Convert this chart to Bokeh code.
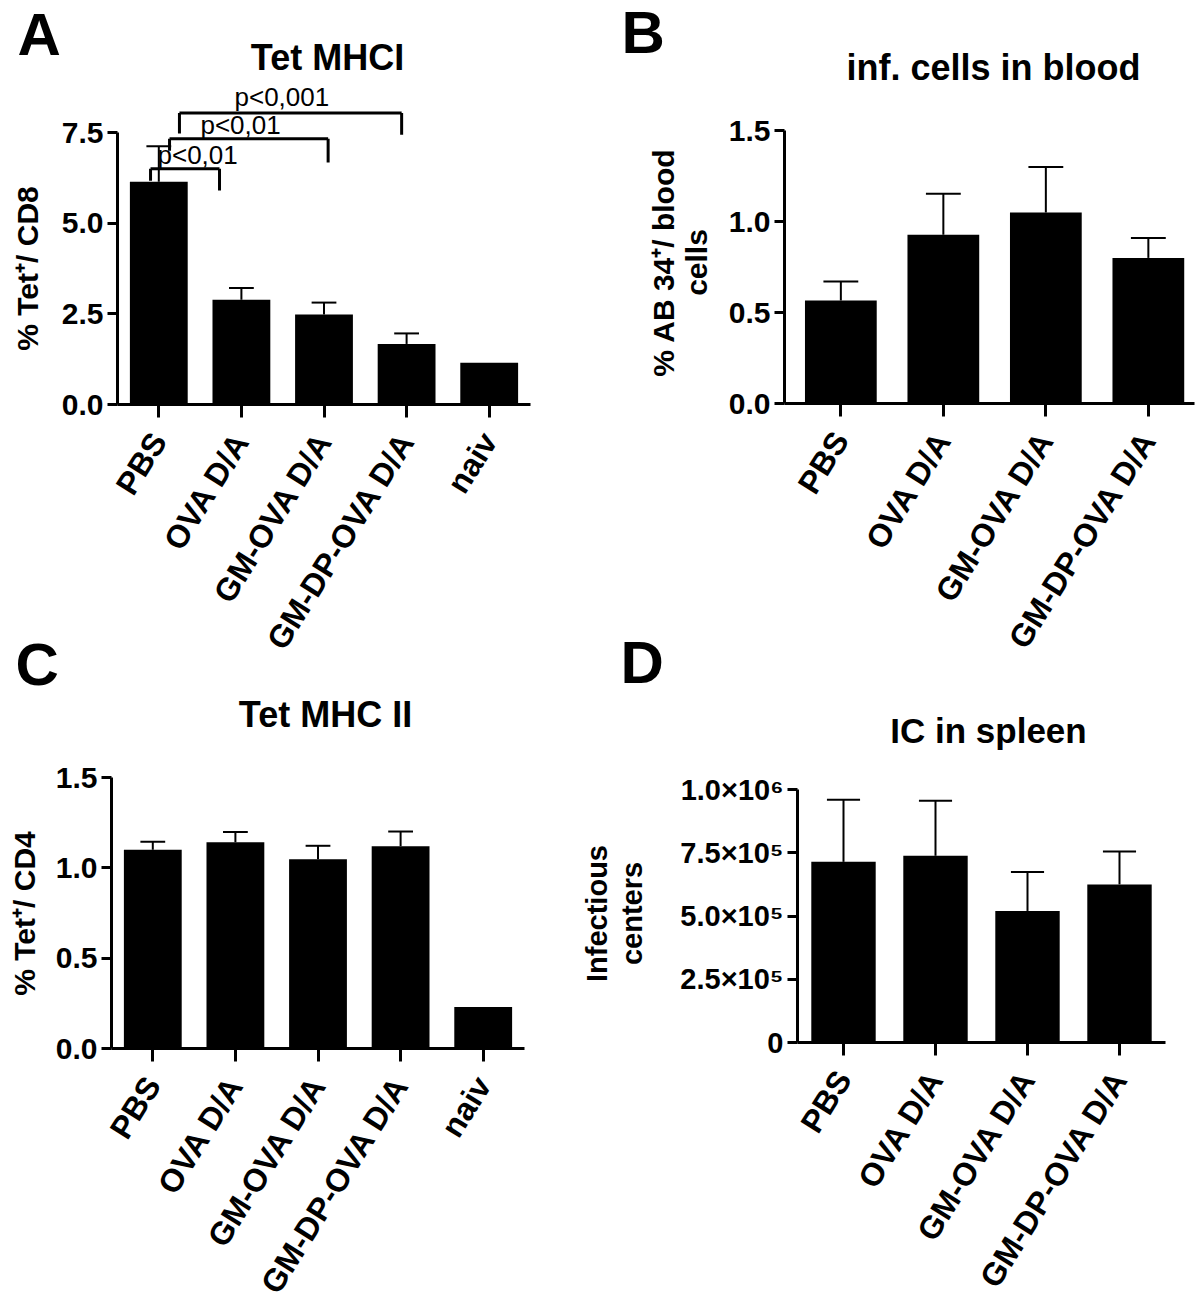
import math
from bokeh.plotting import figure
from bokeh.models import Label, FixedTicker, Range1d
from bokeh.layouts import row, column
from bokeh.embed import file_html
from bokeh.resources import INLINE

FONT = "Liberation Sans"

# ---------------- data ----------------
a_groups = ["PBS", "OVA D/A", "GM-OVA D/A", "GM-DP-OVA D/A", "naiv"]
a_mean = [6.14, 2.89, 2.48, 1.67, 1.15]
a_sem = [0.98, 0.32, 0.33, 0.29, 0.0]
a_yticks = [0, 2.5, 5.0, 7.5]
a_ylabels = ["0.0", "2.5", "5.0", "7.5"]

b_groups = ["PBS", "OVA D/A", "GM-OVA D/A", "GM-DP-OVA D/A"]
b_mean = [0.566, 0.927, 1.05, 0.80]
b_sem = [0.105, 0.225, 0.25, 0.11]
b_yticks = [0, 0.5, 1.0, 1.5]
b_ylabels = ["0.0", "0.5", "1.0", "1.5"]

c_groups = ["PBS", "OVA D/A", "GM-OVA D/A", "GM-DP-OVA D/A", "naiv"]
c_mean = [1.10, 1.142, 1.048, 1.12, 0.23]
c_sem = [0.045, 0.057, 0.074, 0.081, 0.0]
c_yticks = [0, 0.5, 1.0, 1.5]
c_ylabels = ["0.0", "0.5", "1.0", "1.5"]

d_groups = ["PBS", "OVA D/A", "GM-OVA D/A", "GM-DP-OVA D/A"]
d_mean = [714000, 738000, 520000, 625000]
d_sem = [245000, 218000, 154000, 130000]
d_yticks = [0, 250000, 500000, 750000, 1000000]
d_ylabels = ["0", "2.5×10⁵", "5.0×10⁵", "7.5×10⁵", "1.0×10⁶"]

# significance brackets (panel A), x in category units (PBS centre = 0.5)
sig_text = ["p<0,01", "p<0,01", "p<0,001"]
sig_left = [0.40, 0.63, 0.75]
sig_right = [1.235, 2.55, 3.44]
sig_y = [6.50, 7.33, 8.04]
sig_left_bottom = [6.17, 7.0, 7.47]
sig_right_bottom = [5.90, 6.67, 7.44]
sig_text_x = [0.97, 1.49, 1.99]
sig_text_y = [6.58, 7.41, 8.18]

# ---------------- geometry (page pixels) ----------------
# ox, oy, W, H: canvas; ax, ay: page pixel of the data origin; sx, sy: pixels per unit;
# x0: data x where the y axis sits; xb: x extent of the x axis line
LSPLIT = 746   # page y where canvas C starts (left column)
RSPLIT = 760   # page y where canvas D starts (right column)
GEO = {
    "A": dict(ox=0, oy=0, W=580, H=LSPLIT, ax=117, ay=404, sx=82.6, sy=272 / 7.5, x0=0, xb=(0, 5)),
    "B": dict(ox=580, oy=0, W=620, H=RSPLIT, ax=789.1, ay=403, sx=102.5, sy=273 / 1.5, x0=-0.05, xb=(-0.05, 3.95)),
    "C": dict(ox=0, oy=LSPLIT, W=580, H=1312 - LSPLIT, ax=111, ay=1048, sx=82.6, sy=271 / 1.5, x0=0, xb=(0, 5)),
    "D": dict(ox=580, oy=RSPLIT, W=620, H=1312 - RSPLIT, ax=797, ay=1042, sx=92.0, sy=253 / 1.0e6, x0=0, xb=(0, 4)),
}

BASE_SHIFT = 0.4  # em offset between requested baseline and rendered text position


def make_panel(key, groups, mean, sem, yticks, ylabels, cap_w,
               ytick_size="30px", bar_w=0.7):
    g = GEO[key]
    xr = ((g["ox"] - g["ax"]) / g["sx"], (g["ox"] + g["W"] - g["ax"]) / g["sx"])
    yr = ((g["ay"] - (g["oy"] + g["H"])) / g["sy"], (g["ay"] - g["oy"]) / g["sy"])
    p = figure(width=g["W"], height=g["H"], x_range=Range1d(*xr), y_range=Range1d(*yr),
               output_backend="svg", toolbar_location=None, title=None,
               min_border=0, min_border_left=0, min_border_right=0,
               min_border_top=0, min_border_bottom=0)
    p.grid.visible = False
    p.outline_line_color = None
    p.background_fill_color = "white"
    p.border_fill_color = "white"

    xs = [i + 0.5 for i in range(len(groups))]
    p.vbar(x=xs, top=mean, width=bar_w, bottom=0, fill_color="black", line_color=None)

    ex = [x for x, s in zip(xs, sem) if s > 0]
    elo = [m for m, s in zip(mean, sem) if s > 0]
    ehi = [m + s for m, s in zip(mean, sem) if s > 0]
    p.segment(x0=ex, y0=elo, x1=ex, y1=ehi, line_color="black", line_width=2)
    p.segment(x0=[x - cap_w / 2 for x in ex], y0=ehi, x1=[x + cap_w / 2 for x in ex],
              y1=ehi, line_color="black", line_width=2)

    xa = p.xaxis[0]
    ya = p.yaxis[0]
    for ax in (xa, ya):
        ax.axis_line_width = 3
        ax.axis_line_color = "black"
        ax.major_tick_line_width = 3
        ax.major_tick_line_color = "black"
        ax.major_tick_in = 0
        ax.minor_tick_line_color = None
        ax.major_label_text_font = FONT
        ax.major_label_text_font_style = "bold"
        ax.major_label_text_color = "black"

    xa.fixed_location = 0
    xa.bounds = g["xb"]
    xa.ticker = FixedTicker(ticks=xs)
    xa.major_label_overrides = {x: gname for x, gname in zip(xs, groups)}
    xa.major_label_orientation = math.radians(58)
    xa.major_label_text_font_size = "32px"
    xa.major_tick_out = 13
    xa.major_label_standoff = 18

    ya.fixed_location = g["x0"]
    ya.bounds = (yticks[0], yticks[-1])
    ya.ticker = FixedTicker(ticks=yticks)
    ya.major_label_overrides = {t: s for t, s in zip(yticks, ylabels)}
    ya.major_label_text_font_size = ytick_size
    ya.major_tick_out = 10
    ya.major_label_standoff = 4
    return p, g


def add_text(p, g, px, py, text, fs, style="bold", align="left", vertical=False):
    # (px, py): page pixel of the text baseline anchor
    if vertical:
        px -= BASE_SHIFT * fs
    else:
        py -= BASE_SHIFT * fs
    x = (px - g["ax"]) / g["sx"]
    y = (g["ay"] - py) / g["sy"]
    p.add_layout(Label(x=x, y=y, text=text, text_font=FONT, text_font_size=f"{fs}px",
                       text_font_style=style, text_color="black", text_align=align,
                       text_baseline="alphabetic",
                       angle=math.pi / 2 if vertical else 0.0))


# ---------------- panel A ----------------
pA, gA = make_panel("A", a_groups, a_mean, a_sem, a_yticks, a_ylabels, 0.30)
pA.segment(x0=sig_left, y0=sig_y, x1=sig_right, y1=sig_y, line_color="black", line_width=3)
pA.segment(x0=sig_left, y0=sig_y, x1=sig_left, y1=sig_left_bottom, line_color="black", line_width=3)
pA.segment(x0=sig_right, y0=sig_y, x1=sig_right, y1=sig_right_bottom, line_color="black", line_width=3)
SIG_FS = 26
for t, tx, ty in zip(sig_text, sig_text_x, sig_text_y):
    pA.add_layout(Label(x=tx, y=ty + BASE_SHIFT * SIG_FS / gA["sy"], text=t, text_font=FONT,
                        text_font_size=f"{SIG_FS}px", text_font_style="normal",
                        text_color="black", text_align="center",
                        text_baseline="alphabetic"))
add_text(pA, gA, 17, 58, "A", 60)
add_text(pA, gA, 327, 71, "Tet MHCI", 36, align="center")
add_text(pA, gA, 39, 268, "% Tet⁺/ CD8", 30, align="center", vertical=True)
# header of panel C (letter + title) lies in the band above canvas C
add_text(pA, gA, 15, 688, "C", 60)
add_text(pA, gA, 325, 728, "Tet MHC II", 36, align="center")

# ---------------- panel B ----------------
pB, gB = make_panel("B", b_groups, b_mean, b_sem, b_yticks, b_ylabels, 0.34)
add_text(pB, gB, 621, 56, "B", 60)
add_text(pB, gB, 993, 81, "inf. cells in blood", 36, align="center")
add_text(pB, gB, 675, 262, "% AB 34⁺/ blood", 30, align="center", vertical=True)
add_text(pB, gB, 708, 262, "cells", 30, align="center", vertical=True)
# header of panel D (letter + title) lies in the band above canvas D
add_text(pB, gB, 620, 686, "D", 60)
add_text(pB, gB, 988, 744, "IC in spleen", 35, align="center")

# ---------------- panel C ----------------
pC, gC = make_panel("C", c_groups, c_mean, c_sem, c_yticks, c_ylabels, 0.30)
add_text(pC, gC, 36, 913, "% Tet⁺/ CD4", 30, align="center", vertical=True)

# ---------------- panel D ----------------
pD, gD = make_panel("D", d_groups, d_mean, d_sem, d_yticks, d_ylabels, 0.36,
                    ytick_size="29px")
add_text(pD, gD, 608, 913, "Infectious", 29, align="center", vertical=True)
add_text(pD, gD, 643, 913, "centers", 29, align="center", vertical=True)

layout = row(column(pA, pC), column(pB, pD))
open("out.html", "w").write(file_html(layout, INLINE))
